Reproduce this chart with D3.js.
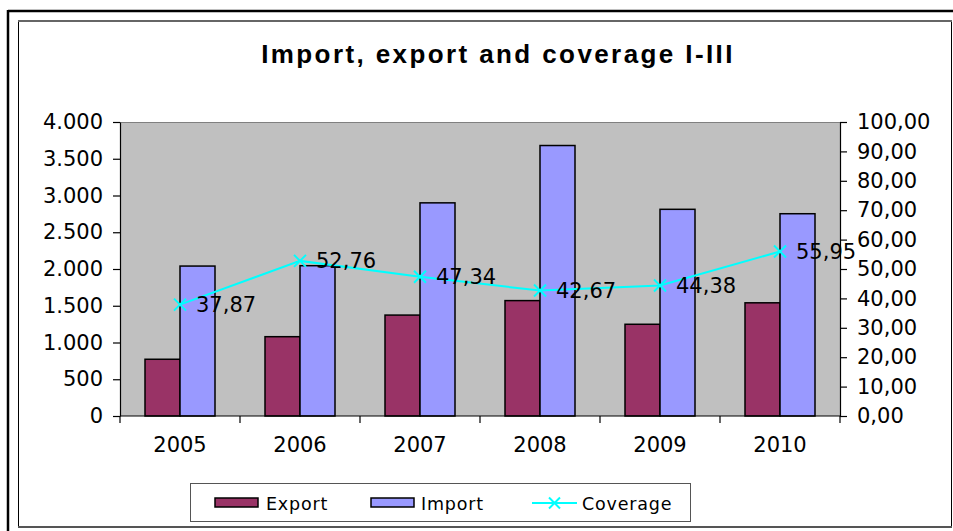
<!DOCTYPE html>
<html>
<head>
<meta charset="utf-8">
<script src="https://cdn.jsdelivr.net/npm/d3@7/dist/d3.min.js"></script>
<style>
  html, body { margin: 0; padding: 0; background: #fff; }
  svg { display: block; }
</style>
</head>
<body>
<svg id="chart" width="953" height="531"></svg>
<script>
// Yearly values, January–March
const years = ["2005", "2006", "2007", "2008", "2009", "2010"];
const exportValues = [772, 1079, 1373, 1570, 1248, 1540];
const importValues = [2040, 2045, 2900, 3680, 2812, 2752];
const coverageValues = [37.87, 52.76, 47.34, 42.67, 44.38, 55.95];
const leftTicks = [0, 500, 1000, 1500, 2000, 2500, 3000, 3500, 4000];
const rightTicks = [0, 10, 20, 30, 40, 50, 60, 70, 80, 90, 100];

const seriesNames = ["Export", "Import", "Coverage"];
const colors = { Export: "#993366", Import: "#9999FF", Coverage: "#00FFFF" };

const locale = d3.formatLocale({ decimal: ",", thousands: ".", grouping: [3], currency: ["", ""] });
const fmtLeft = locale.format(",d");
const fmtRight = locale.format(",.2f");

const svg = d3.select("#chart");
const font = "'DejaVu Sans', Verdana, sans-serif";

// Outer and inner frames
svg.append("line").attr("x1", 8).attr("y1", 11).attr("x2", 953).attr("y2", 11)
  .attr("stroke", "#000").attr("stroke-width", 2.5);
svg.append("line").attr("x1", 8).attr("y1", 10).attr("x2", 8).attr("y2", 531)
  .attr("stroke", "#000").attr("stroke-width", 2.5);
svg.append("rect").attr("x", 18.5).attr("y", 21).attr("width", 933).attr("height", 506)
  .attr("fill", "#fff").attr("stroke", "#000").attr("stroke-width", 1);
svg.append("line").attr("x1", 18).attr("y1", 21).attr("x2", 952).attr("y2", 21)
  .attr("stroke", "#666").attr("stroke-width", 2);
svg.append("line").attr("x1", 18).attr("y1", 527).attr("x2", 952).attr("y2", 527)
  .attr("stroke", "#555").attr("stroke-width", 2);

// Title
svg.append("text")
  .attr("x", 498).attr("y", 63)
  .attr("text-anchor", "middle")
  .attr("font-family", "'Liberation Sans', Arial, sans-serif")
  .attr("font-weight", "bold")
  .attr("font-size", 26)
  .attr("letter-spacing", 2.4)
  .text("Import, export and coverage I-III");

// Plot area
const plot = { left: 120, right: 840, top: 122, bottom: 416 };

const x = d3.scaleBand().domain(years).range([plot.left, plot.right]).padding(0);
const yLeft = d3.scaleLinear().domain([0, 4000]).range([plot.bottom, plot.top]);
const yRight = d3.scaleLinear().domain([0, 100]).range([plot.bottom, plot.top]);

svg.append("rect")
  .attr("x", plot.left).attr("y", plot.top)
  .attr("width", plot.right - plot.left).attr("height", plot.bottom - plot.top)
  .attr("fill", "#C0C0C0");
svg.append("line")
  .attr("x1", plot.left).attr("x2", plot.right).attr("y1", plot.top + 0.5).attr("y2", plot.top + 0.5)
  .attr("stroke", "#808080").attr("stroke-width", 1);

// Bars
const barW = 35;
const barGroup = svg.append("g").attr("stroke", "#000").attr("stroke-width", 1.5);
barGroup.selectAll("rect.export")
  .data(years.map((y, i) => ({ year: y, v: exportValues[i] })))
  .join("rect")
  .attr("class", "export")
  .attr("x", d => x(d.year) + x.bandwidth() / 2 - barW)
  .attr("y", d => yLeft(d.v))
  .attr("width", barW)
  .attr("height", d => yLeft(0) - yLeft(d.v))
  .attr("fill", colors.Export);
barGroup.selectAll("rect.import")
  .data(years.map((y, i) => ({ year: y, v: importValues[i] })))
  .join("rect")
  .attr("class", "import")
  .attr("x", d => x(d.year) + x.bandwidth() / 2)
  .attr("y", d => yLeft(d.v))
  .attr("width", barW)
  .attr("height", d => yLeft(0) - yLeft(d.v))
  .attr("fill", colors.Import);

// Axes
const leftAxis = svg.append("g")
  .attr("transform", `translate(${plot.left},0)`)
  .call(d3.axisLeft(yLeft).tickValues(leftTicks).tickFormat(fmtLeft).tickSize(7).tickSizeOuter(0).tickPadding(10));
const rightAxis = svg.append("g")
  .attr("transform", `translate(${plot.right},0)`)
  .call(d3.axisRight(yRight).tickValues(rightTicks).tickFormat(fmtRight).tickSize(7).tickSizeOuter(0).tickPadding(10));

[leftAxis, rightAxis].forEach(g => {
  g.selectAll("text").attr("font-family", font).attr("font-size", 21).attr("fill", "#000");
  g.selectAll("line,path").attr("stroke", "#000").attr("stroke-width", 1.2);
});

// Category axis: boundary ticks, centred labels
const bottom = svg.append("g");
bottom.append("line")
  .attr("x1", plot.left).attr("x2", plot.right).attr("y1", plot.bottom).attr("y2", plot.bottom)
  .attr("stroke", "#000").attr("stroke-width", 1.2);
const boundaries = years.map(y => x(y)).concat([x(years[years.length - 1]) + x.bandwidth()]);
bottom.selectAll("line.tick")
  .data(boundaries)
  .join("line")
  .attr("class", "tick")
  .attr("x1", d => d).attr("x2", d => d)
  .attr("y1", plot.bottom).attr("y2", plot.bottom + 7)
  .attr("stroke", "#000").attr("stroke-width", 1.2);
bottom.selectAll("text")
  .data(years)
  .join("text")
  .attr("x", d => x(d) + x.bandwidth() / 2)
  .attr("y", 452)
  .attr("text-anchor", "middle")
  .attr("font-family", font).attr("font-size", 21)
  .text(d => d);

// Coverage line with x markers
const pts = years.map((y, i) => ({ year: y, v: coverageValues[i] }));
const line = d3.line().x(d => x(d.year) + x.bandwidth() / 2).y(d => yRight(d.v));
svg.append("path")
  .datum(pts)
  .attr("d", line)
  .attr("fill", "none")
  .attr("stroke", colors.Coverage)
  .attr("stroke-width", 2);

function crossPath(cx, cy, r) {
  return `M${cx - r},${cy - r}L${cx + r},${cy + r}M${cx - r},${cy + r}L${cx + r},${cy - r}`;
}
svg.selectAll("path.marker")
  .data(pts)
  .join("path")
  .attr("class", "marker")
  .attr("d", d => crossPath(x(d.year) + x.bandwidth() / 2, yRight(d.v), 6))
  .attr("stroke", colors.Coverage)
  .attr("stroke-width", 2)
  .attr("fill", "none");

svg.selectAll("text.dlabel")
  .data(pts)
  .join("text")
  .attr("class", "dlabel")
  .attr("x", d => x(d.year) + x.bandwidth() / 2 + 16)
  .attr("y", d => yRight(d.v) + 7.5)
  .attr("font-family", font).attr("font-size", 21)
  .attr("fill", "#000")
  .text(d => fmtRight(d.v));

// Legend
const legend = svg.append("g");
legend.append("rect")
  .attr("x", 190.5).attr("y", 483.5).attr("width", 500).attr("height", 38)
  .attr("fill", "#fff").attr("stroke", "#555").attr("stroke-width", 1);

const legendItems = [
  { name: seriesNames[0], x: 215, textX: 266 },
  { name: seriesNames[1], x: 371, textX: 421 },
  { name: seriesNames[2], x: 532, textX: 582 }
];
legendItems.forEach(it => {
  if (it.name === "Coverage") {
    legend.append("line")
      .attr("x1", it.x).attr("x2", it.x + 45).attr("y1", 503).attr("y2", 503)
      .attr("stroke", colors.Coverage).attr("stroke-width", 2);
    legend.append("path")
      .attr("d", crossPath(it.x + 22.5, 503, 5.5))
      .attr("stroke", colors.Coverage).attr("stroke-width", 2).attr("fill", "none");
  } else {
    legend.append("rect")
      .attr("x", it.x).attr("y", 498).attr("width", 43).attr("height", 9)
      .attr("fill", colors[it.name]).attr("stroke", "#000").attr("stroke-width", 1.5);
  }
  legend.append("text")
    .attr("x", it.textX).attr("y", 509.5)
    .attr("font-family", font).attr("font-size", 17.5)
    .attr("letter-spacing", 0.8)
    .text(it.name);
});
</script>
</body>
</html>
